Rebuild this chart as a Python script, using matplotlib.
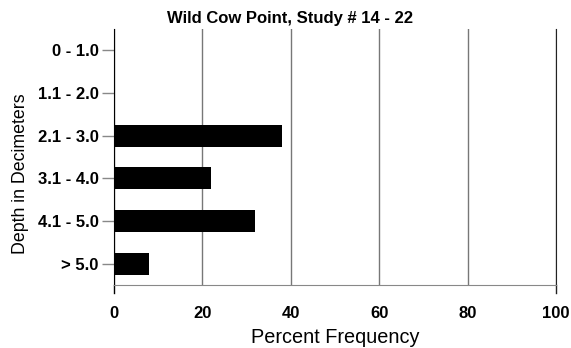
import matplotlib.pyplot as plt

plt.rcParams['font.family'] = ['Liberation Sans', 'DejaVu Sans']

# Dados
depths = ['0 - 1.0', '1.1 - 2.0', '2.1 - 3.0', '3.1 - 4.0', '4.1 - 5.0', '> 5.0']
freq = [0, 0, 38, 22, 32, 8]
x_ticks = [0, 20, 40, 60, 80, 100]

fig = plt.figure(figsize=(5.71, 3.48), dpi=100)
ax = fig.add_axes([0.1996, 0.181, 0.774, 0.736])

pos = list(range(len(depths)))
ax.barh(pos, freq, height=0.52, color='black', zorder=3)

ax.set_ylim(len(depths) - 0.5, -0.5)
ax.set_xlim(0, 100)
ax.set_yticks(pos)
ax.set_yticklabels(depths, fontsize=12, fontweight='bold')
ax.set_xticks(x_ticks)
ax.set_xticklabels([str(t) for t in x_ticks], fontsize=12, fontweight='bold')

# Linhas de grade verticais
ax.grid(axis='x', color='#777777', linewidth=1.0, zorder=1)

ax.tick_params(axis='y', length=9, width=1, color='#888888', pad=2)
ax.tick_params(axis='x', length=0, pad=15)

ax.spines['top'].set_visible(False)
ax.spines['bottom'].set_color('#888888')
ax.spines['left'].set_color('black')
ax.spines['right'].set_color('#222222')

# Prolongar os eixos laterais abaixo da base
ax.axvline(0, ymin=-0.03, ymax=0, color='black', linewidth=1, clip_on=False)
ax.axvline(100, ymin=-0.03, ymax=0, color='#222222', linewidth=1, clip_on=False)

# Titulo centrado na figura
ax.set_title('Wild Cow Point, Study # 14 - 22', fontsize=12, fontweight='bold', pad=4, x=0.398)
ax.set_xlabel('Percent Frequency', fontsize=14.3, labelpad=5)
ax.set_ylabel('Depth in Decimeters', fontsize=12.8, labelpad=6)
ax.yaxis.label.set_y(0.434)

plt.savefig('out.png', dpi=100)
